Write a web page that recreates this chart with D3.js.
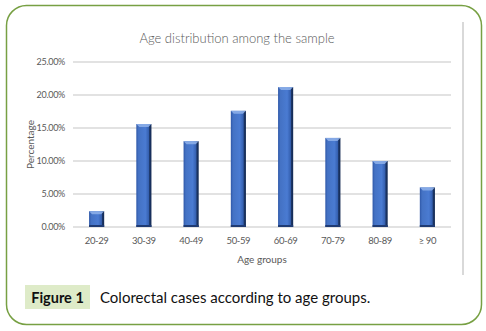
<!DOCTYPE html>
<html><head><meta charset="utf-8">
<script src="https://cdn.jsdelivr.net/npm/d3@7"></script>
<style>html,body{margin:0;padding:0;background:#fff;}svg{display:block;}</style>
</head><body>
<script>
const categories = ["20-29","30-39","40-49","50-59","60-69","70-79","80-89","\u2265 90"];
const values = [2.4, 15.6, 13.0, 17.6, 21.2, 13.5, 10.0, 6.0];
const yTicks = [0, 5, 10, 15, 20, 25];
const title = "Age distribution among the sample";
const xTitle = "Age groups";
const yTitle = "Percentage";
const captionLabel = "Figure 1";
const captionText = "Colorectal cases according to age groups.";

const W = 486, H = 331;
const svg = d3.select("body").append("svg").attr("width", W).attr("height", H);
const defs = svg.append("defs");
const g1 = defs.append("linearGradient").attr("id","barg").attr("x1","0").attr("x2","1").attr("y1","0").attr("y2","0");
g1.append("stop").attr("offset","0").attr("stop-color","#2f58a8");
g1.append("stop").attr("offset","0.15").attr("stop-color","#4472c4");
g1.append("stop").attr("offset","0.6").attr("stop-color","#4a7bd2");
g1.append("stop").attr("offset","0.82").attr("stop-color","#3560b0");
g1.append("stop").attr("offset","0.88").attr("stop-color","#1b3566");
g1.append("stop").attr("offset","1").attr("stop-color","#142a52");

// outer frame
svg.append("rect").attr("x",6.5).attr("y",5.5).attr("width",475).attr("height",319)
  .attr("rx",20).attr("ry",20).attr("fill","#fff").attr("stroke","#77a043").attr("stroke-width",1.5);

// right grey line of chart area
svg.append("line").attr("x1",463).attr("x2",463).attr("y1",22).attr("y2",275)
  .attr("stroke","#d9d9d9").attr("stroke-width",2);

const m = {left:73, right:451, top:62, bottom:227};
const x = d3.scaleBand().domain(categories).range([m.left, m.right]).paddingInner(0.68).paddingOuter(0.34);
const y = d3.scaleLinear().domain([0,25]).range([m.bottom, m.top]);

const font = "Lato, 'Open Sans', sans-serif";

// gridlines
svg.append("g").selectAll("line").data(yTicks).join("line")
  .attr("x1", m.left).attr("x2", m.right)
  .attr("y1", d => y(d)).attr("y2", d => y(d))
  .attr("stroke","#d9d9d9").attr("stroke-width",1.3);

// y axis labels
const yAxis = d3.axisLeft(y).tickValues(yTicks).tickSize(0).tickPadding(8).tickFormat(d => d.toFixed(2) + "%");
const ya = svg.append("g").attr("transform", `translate(${m.left},0)`).call(yAxis);
ya.select(".domain").remove();
ya.selectAll("text").attr("font-family", font).attr("font-size", 9).attr("fill","#595959").attr("letter-spacing","-0.3");

// x axis labels
const xAxis = d3.axisBottom(x).tickSize(0).tickPadding(10);
const xa = svg.append("g").attr("transform", `translate(0,${m.bottom})`).call(xAxis);
xa.select(".domain").remove();
xa.selectAll("text").attr("font-family", font).attr("font-size", 9.5).attr("fill","#595959").attr("letter-spacing","-0.4");

// bars
const bars = svg.append("g").selectAll("g").data(values).join("g");
bars.append("rect")
  .attr("x", (d,i) => x(categories[i])).attr("width", x.bandwidth())
  .attr("y", d => y(d)).attr("height", d => y(0) - y(d))
  .attr("fill","url(#barg)");
// top bevel highlight
bars.append("path")
  .attr("d", (d,i) => {
    const x0 = x(categories[i]), w = x.bandwidth(), t = y(d);
    return `M${x0},${t} L${x0+w},${t} L${x0+w-3},${t+3} L${x0+3},${t+3} Z`;
  })
  .attr("fill","#8fb1ea").attr("opacity",0.85);
// bottom dark edge
bars.append("rect")
  .attr("x", (d,i) => x(categories[i])).attr("width", x.bandwidth())
  .attr("y", y(0) - 2).attr("height", 2).attr("fill","#1f3b73");

// title
svg.append("text").attr("x", 237).attr("y", 43).attr("text-anchor","middle")
  .attr("font-family", font).attr("font-size", 13).attr("fill","#595959").attr("font-weight",300).text(title);

// axis titles
svg.append("text").attr("x", (m.left+m.right)/2).attr("y", 263).attr("text-anchor","middle")
  .attr("font-family", font).attr("font-size", 10).attr("fill","#595959").text(xTitle);
svg.append("text").attr("transform", `translate(34,${(m.top+m.bottom)/2}) rotate(-90)`).attr("text-anchor","middle")
  .attr("font-family", font).attr("font-size", 10).attr("fill","#595959").text(yTitle);

// caption
svg.append("rect").attr("x",25).attr("y",285).attr("width",65).attr("height",24).attr("fill","#deebc8");
svg.append("text").attr("x",57.5).attr("y",302.5).attr("text-anchor","middle")
  .attr("font-family", font).attr("font-size",14.5).attr("font-weight","bold").attr("fill","#111").text(captionLabel);
svg.append("text").attr("x",100).attr("y",302.5)
  .attr("font-family", font).attr("font-size",15).attr("fill","#111").text(captionText);
</script>
</body></html>
